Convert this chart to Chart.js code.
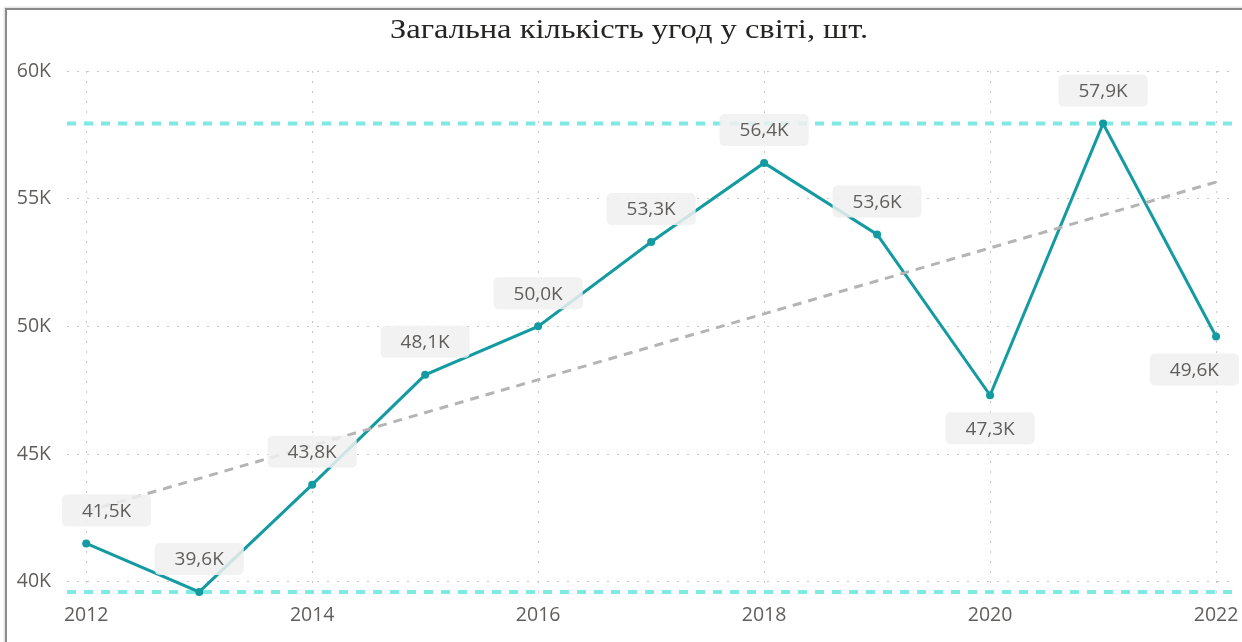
<!DOCTYPE html>
<html>
<head>
<meta charset="utf-8">
<script src="https://cdn.jsdelivr.net/npm/chart.js@4"></script>
<style>
    html, body { margin: 0; padding: 0; background: #fff; overflow: hidden; }
    .frame {
        position: absolute; left: 5px; top: 8px; width: 1300px; height: 700px;
        border-left: 2px solid #8a8a8a; border-top: 2px solid #8a8a8a;
        box-shadow: -1px -1px 2px rgba(0,0,0,0.15);
    }
    #chart-wrap { position: absolute; left: 0; top: 0; width: 1242px; height: 642px; }
</style>
</head>
<body>
<div class="frame"></div>
<div id="chart-wrap"><canvas id="dealsChart"></canvas></div>
<script>
// --- DATA ---
const years = [2012, 2013, 2014, 2015, 2016, 2017, 2018, 2019, 2020, 2021, 2022];
const deals = [41500, 39600, 43800, 48100, 50000, 53300, 56400, 53600, 47300, 57940, 49600];
const trendYears = [2012, 2022];
const trendValues = [42750, 55650];
const yTicks = [40000, 45000, 50000, 55000, 60000];
const xTicks = [2012, 2014, 2016, 2018, 2020, 2022];
const labelsBelow = [2020, 2022];
const chartTitle = 'Загальна кількість угод у світі, шт.';

const TEAL = '#139ba1';
const TEXT_GRAY = '#605e5c';
const GRID = '#c8c6c4';

function fmtK(v) {
    return (v / 1000).toFixed(1).replace('.', ',') + 'K';
}

// --- PLUGINS ---
// title drawn by hand (the original font is a bit wider than Liberation Serif)
const wideTitle = {
    id: 'wideTitle',
    afterDraw(chart) {
        const { ctx } = chart;
        ctx.save();
        ctx.font = '28px "Liberation Serif", "Times New Roman", serif';
        ctx.fillStyle = '#252423';
        ctx.textAlign = 'center';
        ctx.textBaseline = 'alphabetic';
        ctx.translate(629, 38);
        ctx.scale(1.16, 1);
        ctx.fillText(chartTitle, 0, 0);
        ctx.restore();
    }
};

// horizontal max / min lines across the plot
const minMaxLines = {
    id: 'minMaxLines',
    beforeDatasetsDraw(chart) {
        const { ctx, chartArea, scales } = chart;
        const levels = [Math.max(...deals), Math.min(...deals)];
        ctx.save();
        ctx.strokeStyle = '#7eeae3';
        ctx.lineWidth = 4;
        ctx.setLineDash([9, 8]);
        levels.forEach(v => {
            const y = scales.y.getPixelForValue(v);
            ctx.beginPath();
            ctx.moveTo(chartArea.left, y);
            ctx.lineTo(chartArea.right, y);
            ctx.stroke();
        });
        ctx.restore();
    }
};

// grey rounded value labels
const valueLabels = {
    id: 'valueLabels',
    afterDatasetsDraw(chart) {
        const { ctx, chartArea } = chart;
        const meta = chart.getDatasetMeta(1);
        ctx.save();
        ctx.font = '19px "Open Sans"';
        ctx.textAlign = 'center';
        ctx.textBaseline = 'middle';
        meta.data.forEach((pt, i) => {
            const text = fmtK(deals[i]);
            const w = ctx.measureText(text).width + 40;
            const h = 32;
            let cx = pt.x;
            cx = Math.max(cx, chartArea.left - 5 + w / 2);
            cx = Math.min(cx, chartArea.right + 6 - w / 2);
            const below = labelsBelow.includes(years[i]);
            const top = below ? pt.y + 17 : pt.y - 17 - h;
            ctx.fillStyle = 'rgba(240,240,240,0.85)';
            ctx.beginPath();
            ctx.roundRect(cx - w / 2, top, w, h, 5);
            ctx.fill();
            ctx.fillStyle = TEXT_GRAY;
            ctx.fillText(text, cx, top + h / 2 + 1);
        });
        ctx.restore();
    }
};

// --- CHART ---
const ctx = document.getElementById('dealsChart').getContext('2d');
new Chart(ctx, {
    type: 'line',
    data: {
        datasets: [{
            label: 'Тренд',
            data: trendYears.map((x, i) => ({ x: x, y: trendValues[i] })),
            borderColor: '#b4b4b4',
            borderWidth: 3,
            borderDash: [9, 7],
            pointRadius: 0,
            fill: false
        }, {
            label: 'Кількість угод',
            data: years.map((x, i) => ({ x: x, y: deals[i] })),
            borderColor: TEAL,
            backgroundColor: TEAL,
            borderWidth: 3,
            pointRadius: 4,
            pointBorderWidth: 0,
            pointHoverRadius: 4,
            tension: 0,
            fill: false
        }]
    },
    options: {
        responsive: true,
        maintainAspectRatio: false,
        animation: false,
        layout: { padding: { left: 0, right: 9, top: 71, bottom: 0 } },
        plugins: {
            legend: { display: false },
            tooltip: { enabled: false },
            title: { display: false }
        },
        scales: {
            x: {
                type: 'linear',
                min: 2011.83,
                max: 2022.15,
                afterBuildTicks: scale => { scale.ticks = xTicks.map(v => ({ value: v })); },
                afterFit: scale => {
                    scale.height = 45;
                    scale.paddingLeft = 0;
                    scale.paddingRight = 0;
                },
                grid: { color: GRID, drawTicks: false, lineWidth: 1 },
                border: { display: false, dash: [2, 8] },
                ticks: {
                    color: TEXT_GRAY,
                    padding: 7,
                    maxRotation: 0,
                    font: { family: '"Open Sans"', size: 19.5 },
                    callback: v => String(v)
                }
            },
            y: {
                min: 39400,
                max: 60000,
                afterBuildTicks: scale => { scale.ticks = yTicks.map(v => ({ value: v })); },
                afterFit: scale => { scale.width = 67; },
                grid: { color: GRID, drawTicks: false, lineWidth: 1 },
                border: { display: false, dash: [2, 8] },
                ticks: {
                    color: TEXT_GRAY,
                    padding: 16,
                    font: { family: '"Open Sans"', size: 19.5 },
                    callback: v => (v / 1000) + 'K'
                }
            }
        }
    },
    plugins: [minMaxLines, valueLabels, wideTitle]
});
</script>
</body>
</html>
